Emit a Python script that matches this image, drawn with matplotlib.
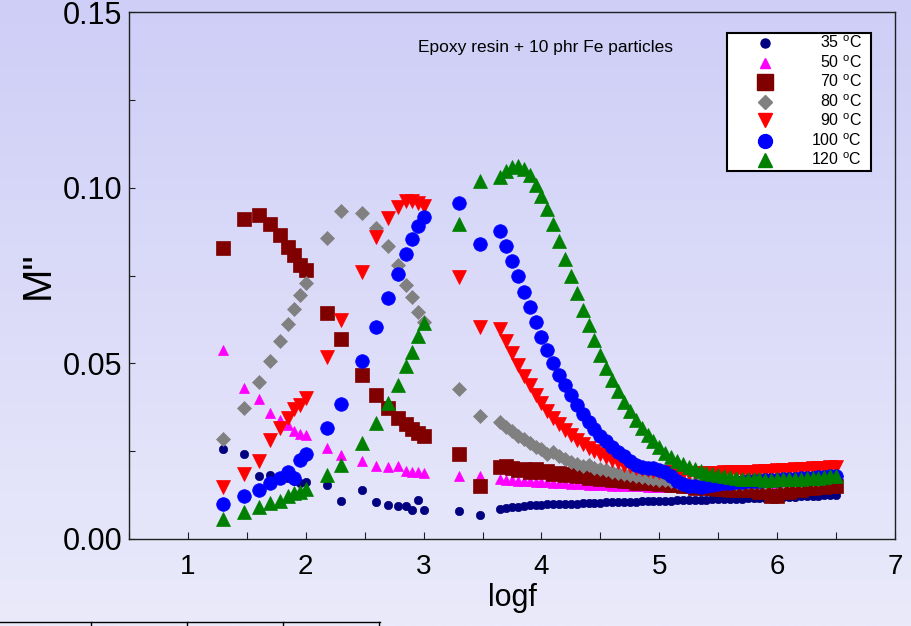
import matplotlib
matplotlib.use('Agg')
import matplotlib.pyplot as plt
import numpy as np
from matplotlib.patches import Rectangle
from matplotlib.lines import Line2D

plt.rcParams['font.family'] = ['Liberation Sans', 'DejaVu Sans']
plt.rcParams['mathtext.fontset'] = 'custom'
plt.rcParams['mathtext.rm'] = 'Liberation Sans'
plt.rcParams['mathtext.it'] = 'Liberation Sans'

# ---------------- data ----------------
logf_low = [1.30, 1.48, 1.60, 1.70, 1.78, 1.85, 1.90, 1.95, 2.00]
logf_mid = [2.18, 2.30, 2.48, 2.60, 2.70, 2.78, 2.85, 2.90, 2.95, 3.00]
logf_hi = [3.30, 3.48]
logf_dense = [3.65, 3.70, 3.75, 3.80, 3.85, 3.90, 3.95, 4.00, 4.05, 4.10,
              4.15, 4.20, 4.25, 4.30, 4.35, 4.40, 4.45, 4.50, 4.55, 4.60,
              4.65, 4.70, 4.75, 4.80, 4.85, 4.90, 4.95, 5.00, 5.05, 5.10,
              5.15, 5.20, 5.25, 5.30, 5.35, 5.40, 5.45, 5.50, 5.55, 5.60,
              5.65, 5.70, 5.75, 5.80, 5.85, 5.90, 5.95, 6.00, 6.05, 6.10,
              6.15, 6.20, 6.25, 6.30, 6.35, 6.40, 6.45, 6.50]
logf = logf_low + logf_mid + logf_hi + logf_dense

m35 = [0.0257, 0.0241, 0.0178, 0.0183, 0.0168, 0.0173, 0.0165, 0.0159, 0.0161,
       0.0154, 0.0107, 0.0140, 0.0104, 0.0096, 0.0095, 0.0093, 0.0083, 0.0110, 0.0083,
       0.0080, 0.0069,
       0.0086, 0.0088, 0.0090, 0.0092, 0.0094, 0.0096, 0.0097, 0.0098, 0.0099, 0.0099,
       0.0100, 0.0100, 0.0101, 0.0101, 0.0102, 0.0102, 0.0103, 0.0103, 0.0104, 0.0104,
       0.0105, 0.0105, 0.0106, 0.0106, 0.0107, 0.0107, 0.0108, 0.0108, 0.0109, 0.0109,
       0.0110, 0.0110, 0.0111, 0.0111, 0.0112, 0.0112, 0.0113, 0.0113, 0.0114, 0.0114,
       0.0115, 0.0115, 0.0116, 0.0116, 0.0117, 0.0117, 0.0118, 0.0118, 0.0119, 0.0119,
       0.0120, 0.0121, 0.0122, 0.0122, 0.0123, 0.0124, 0.0125, 0.0126]

m50 = [0.0538, 0.0431, 0.0398, 0.0358, 0.0340, 0.0325, 0.0306, 0.0300, 0.0296,
       0.0259, 0.0240, 0.0221, 0.0209, 0.0204, 0.0209, 0.0194, 0.0192, 0.0190, 0.0189,
       0.0178, 0.0178,
       0.0170, 0.0168, 0.0167, 0.0166, 0.0165, 0.0164, 0.0163, 0.0162, 0.0161, 0.0160,
       0.0159, 0.0158, 0.0157, 0.0156, 0.0156, 0.0155, 0.0154, 0.0154, 0.0153, 0.0152,
       0.0152, 0.0151, 0.0151, 0.0150, 0.0150, 0.0149, 0.0149, 0.0148, 0.0148, 0.0148,
       0.0147, 0.0147, 0.0147, 0.0147, 0.0146, 0.0146, 0.0146, 0.0146, 0.0146, 0.0146,
       0.0146, 0.0146, 0.0147, 0.0147, 0.0147, 0.0147, 0.0148, 0.0148, 0.0148, 0.0148,
       0.0149, 0.0149, 0.0149, 0.0150, 0.0150, 0.0150, 0.0151, 0.0151]

m70 = [0.0829, 0.0910, 0.0923, 0.0897, 0.0866, 0.0832, 0.0808, 0.0779, 0.0765,
       0.0642, 0.0569, 0.0467, 0.0410, 0.0372, 0.0344, 0.0327, 0.0313, 0.0301, 0.0293,
       0.0241, 0.0150,
       0.0204, 0.0207, 0.0203, 0.0196, 0.0199, 0.0192, 0.0198, 0.0190, 0.0194, 0.0186,
       0.0188, 0.0181, 0.0185, 0.0178, 0.0180, 0.0175, 0.0177, 0.0170, 0.0174, 0.0167,
       0.0169, 0.0164, 0.0166, 0.0160, 0.0163, 0.0158, 0.0160, 0.0156, 0.0158, 0.0153,
       0.0155, 0.0150, 0.0152, 0.0146, 0.0148, 0.0144, 0.0145, 0.0141, 0.0142, 0.0140,
       0.0141, 0.0139, 0.0140, 0.0139, 0.0134, 0.0140, 0.0123, 0.0122, 0.0138, 0.0134,
       0.0141, 0.0140, 0.0145, 0.0146, 0.0148, 0.0149, 0.0150, 0.0152]

m80 = [0.0285, 0.0372, 0.0446, 0.0507, 0.0563, 0.0613, 0.0656, 0.0694, 0.0729,
       0.0858, 0.0934, 0.0929, 0.0886, 0.0834, 0.0781, 0.0724, 0.0688, 0.0647, 0.0618,
       0.0427, 0.0351,
       0.0334, 0.0320, 0.0306, 0.0294, 0.0284, 0.0273, 0.0262, 0.0255, 0.0243, 0.0248,
       0.0237, 0.0228, 0.0220, 0.0214, 0.0208, 0.0212, 0.0203, 0.0199, 0.0195, 0.0192,
       0.0188, 0.0185, 0.0182, 0.0179, 0.0176, 0.0174, 0.0171, 0.0169, 0.0167, 0.0165,
       0.0163, 0.0161, 0.0160, 0.0159, 0.0158, 0.0158, 0.0158, 0.0158, 0.0159, 0.0159,
       0.0159, 0.0160, 0.0161, 0.0162, 0.0162, 0.0163, 0.0164, 0.0165, 0.0166, 0.0167,
       0.0168, 0.0169, 0.0170, 0.0171, 0.0172, 0.0174, 0.0176, 0.0180]

m90 = [0.0147, 0.0185, 0.0221, 0.0282, 0.0317, 0.0344, 0.0370, 0.0382, 0.0401,
       0.0519, 0.0623, 0.0760, 0.0860, 0.0914, 0.0945, 0.0961, 0.0961, 0.0955, 0.0948,
       0.0746, 0.0604,
       0.0599, 0.0563, 0.0528, 0.0495, 0.0463, 0.0437, 0.0411, 0.0388, 0.0365, 0.0345,
       0.0327, 0.0310, 0.0296, 0.0283, 0.0271, 0.0260, 0.0250, 0.0241, 0.0233, 0.0225,
       0.0218, 0.0212, 0.0207, 0.0202, 0.0199, 0.0196, 0.0194, 0.0192, 0.0191, 0.0190,
       0.0189, 0.0188, 0.0188, 0.0188, 0.0188, 0.0188, 0.0189, 0.0189, 0.0190, 0.0190,
       0.0191, 0.0191, 0.0192, 0.0192, 0.0193, 0.0193, 0.0194, 0.0195, 0.0196, 0.0197,
       0.0198, 0.0199, 0.0200, 0.0201, 0.0202, 0.0203, 0.0204, 0.0205]

m100 = [0.0099, 0.0121, 0.0140, 0.0159, 0.0175, 0.0190, 0.0175, 0.0225, 0.0241,
        0.0317, 0.0384, 0.0507, 0.0604, 0.0687, 0.0754, 0.0812, 0.0855, 0.0892, 0.0917,
        0.0955, 0.0841,
        0.0876, 0.0834, 0.0791, 0.0748, 0.0704, 0.0660, 0.0617, 0.0576, 0.0538, 0.0500,
        0.0466, 0.0437, 0.0410, 0.0382, 0.0356, 0.0332, 0.0313, 0.0294, 0.0278, 0.0263,
        0.0249, 0.0235, 0.0222, 0.0212, 0.0205, 0.0203, 0.0201, 0.0196, 0.0190, 0.0178,
        0.0165, 0.0156, 0.0151, 0.0150, 0.0149, 0.0150, 0.0153, 0.0156, 0.0158, 0.0160,
        0.0162, 0.0163, 0.0164, 0.0165, 0.0166, 0.0167, 0.0168, 0.0169, 0.0170, 0.0171,
        0.0172, 0.0173, 0.0174, 0.0175, 0.0176, 0.0177, 0.0178, 0.0179]

m120 = [0.0058, 0.0077, 0.0090, 0.0102, 0.0109, 0.0123, 0.0131, 0.0135, 0.0143,
        0.0181, 0.0211, 0.0273, 0.0331, 0.0386, 0.0438, 0.0491, 0.0531, 0.0578, 0.0614,
        0.0898, 0.1019,
        0.1030, 0.1047, 0.1058, 0.1062, 0.1053, 0.1037, 0.1008, 0.0977, 0.0940, 0.0897,
        0.0848, 0.0798, 0.0750, 0.0701, 0.0653, 0.0608, 0.0565, 0.0525, 0.0488, 0.0452,
        0.0421, 0.0391, 0.0364, 0.0340, 0.0317, 0.0297, 0.0278, 0.0261, 0.0245, 0.0232,
        0.0222, 0.0213, 0.0206, 0.0200, 0.0194, 0.0189, 0.0185, 0.0181, 0.0178, 0.0176,
        0.0174, 0.0172, 0.0171, 0.0170, 0.0170, 0.0169, 0.0169, 0.0170, 0.0170, 0.0171,
        0.0171, 0.0172, 0.0173, 0.0174, 0.0175, 0.0176, 0.0178, 0.0180]

labels = ['35', '50', '70', '80', '90', '100', '120']
series = [m35, m50, m70, m80, m90, m100, m120]
colors = ['#000080', '#ff00ff', '#800000', '#808080', '#ff0000', '#0000ff', '#008000']
markers = ['o', '^', 's', 'D', 'v', 'o', '^']
msizes = [6.0, 6.5, 9.6, 6.8, 9.5, 9.8, 9.5]
leg_msizes = [6.5, 7.0, 11.0, 7.6, 10.5, 10.0, 10.0]

# ---------------- figure ----------------
fig = plt.figure(figsize=(9.12, 6.26), dpi=100)

bg = fig.add_axes([0, 0, 1, 1], zorder=-10)
top = np.array([206, 206, 247]) / 255.0
bot = np.array([234, 234, 251]) / 255.0
t = np.linspace(0, 1, 256).reshape(-1, 1, 1)
grad = top + (bot - top) * t
bg.imshow(grad, aspect='auto', extent=[0, 1, 0, 1], origin='upper')
bg.set_axis_off()

W, H = 912.0, 626.0
ax_l, ax_r, ax_t, ax_b = 129, 895, 12, 539
ax = fig.add_axes([ax_l / W, 1 - ax_b / H, (ax_r - ax_l) / W, (ax_b - ax_t) / H])
ax.set_facecolor('none')

for y, c, mk, ms in zip(series, colors, markers, msizes):
    ax.plot(logf, y, linestyle='none', marker=mk, markersize=ms,
            color=c, markeredgecolor=c, markeredgewidth=0.5)

ax.set_xlim(0.5, 7)
ax.set_ylim(0, 0.15)
ax.set_xticks([1, 2, 3, 4, 5, 6, 7])
ax.set_xticks([0.5, 1.5, 2.5, 3.5, 4.5, 5.5, 6.5], minor=True)
ax.set_yticks([0.0, 0.05, 0.10, 0.15])
ax.set_yticks([0.025, 0.075, 0.125], minor=True)
ax.set_yticklabels(['0.00', '0.05', '0.10', '0.15'])
ax.tick_params(axis='both', which='both', direction='in', top=False, right=False,
               color='#202020', width=0.8)
ax.tick_params(axis='x', which='major', length=5, labelsize=20, pad=11)
ax.tick_params(axis='x', which='minor', length=5)
ax.tick_params(axis='y', which='major', length=4, labelsize=22, pad=5)
ax.tick_params(axis='y', which='minor', length=4)
for sp in ax.spines.values():
    sp.set_color('#202020')
    sp.set_linewidth(1.0)

ax.set_xlabel('logf', fontsize=22, labelpad=2)
ax.set_ylabel('M"', fontsize=29, labelpad=4)

ax.text(0.544, 0.9335, 'Epoxy resin + 10 phr Fe particles', transform=ax.transAxes,
        ha='center', va='center', fontsize=12.5)

# legend box (manual, to keep labels right-aligned)
def axx(px):
    return (px - ax_l) / (ax_r - ax_l)

def axy(py):
    return 1 - (py - ax_t) / (ax_b - ax_t)

bx0, bx1, by0, by1 = 727, 871, 33, 171
ax.add_patch(Rectangle((axx(bx0), axy(by1)), axx(bx1) - axx(bx0), axy(by0) - axy(by1),
                       transform=ax.transAxes, facecolor='white', edgecolor='black',
                       linewidth=1.5, zorder=5, clip_on=False))
rows = [42.7, 62.7, 81.7, 101.7, 120.5, 140.5, 160.0]
for lab, c, mk, ms, ry in zip(labels, colors, markers, leg_msizes, rows):
    ax.plot([axx(765.5)], [axy(ry)], transform=ax.transAxes, linestyle='none',
            marker=mk, markersize=ms, color=c, markeredgecolor=c, zorder=6, clip_on=False)
    ax.text(axx(862), axy(ry), lab + r' $^{\mathrm{o}}$C', transform=ax.transAxes,
            ha='right', va='center', fontsize=11.5, zorder=6)

# table-like lines at the bottom edge
yl = 1 - 622 / H
fig.add_artist(Line2D([0, 380 / W], [yl, yl], transform=fig.transFigure, color='black', lw=1))
for vx in [91, 187, 283, 379.5]:
    fig.add_artist(Line2D([vx / W, vx / W], [0, yl], transform=fig.transFigure,
                          color='black', lw=1))

fig.savefig('out.png', dpi=100)
